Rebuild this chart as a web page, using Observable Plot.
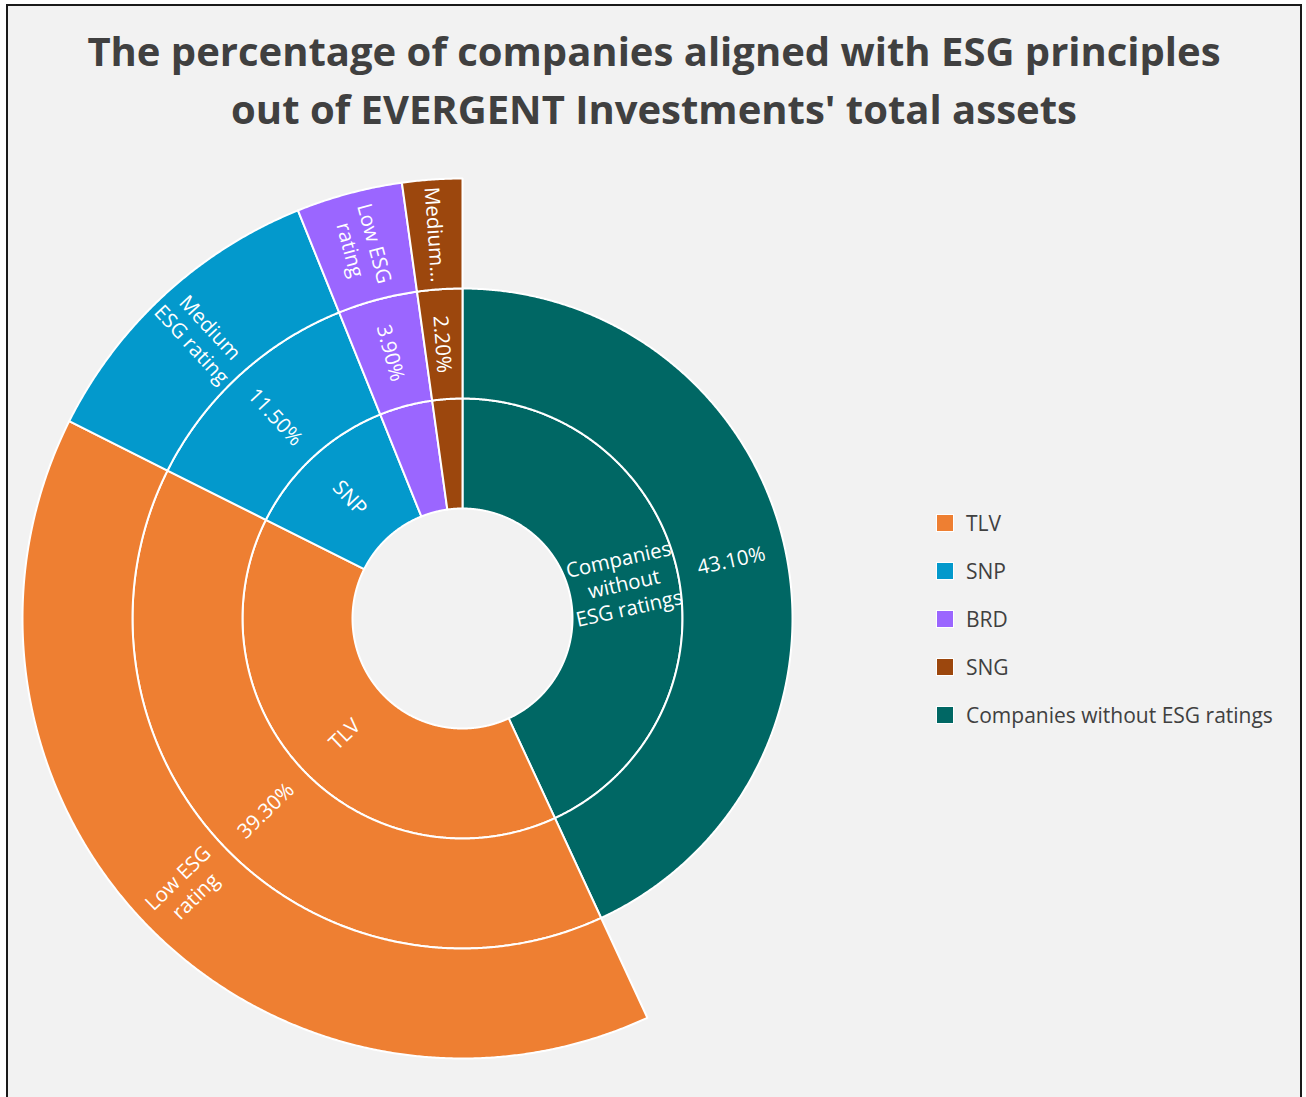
<!DOCTYPE html>
<html><head><meta charset="utf-8">
<script src="https://cdn.jsdelivr.net/npm/d3@7"></script>
<script src="https://cdn.jsdelivr.net/npm/@observablehq/plot@0.6"></script>
<style>
html,body{margin:0;padding:0;background:#ffffff;width:1306px;height:1097px;overflow:hidden;font-family:"Open Sans",sans-serif;}
#frame{position:absolute;left:6px;top:4px;width:1296px;height:1200px;border:2px solid #1a1a1a;background:#f2f2f2;box-sizing:border-box;}
#title{position:absolute;left:0;top:22px;width:1308px;text-align:center;font-weight:700;font-size:40px;line-height:58px;color:#404040;}
#chart{position:absolute;left:12px;top:168px;}
#legend{position:absolute;left:936px;top:0;}
.item{position:absolute;left:0;white-space:nowrap;display:flex;align-items:center;height:30px;}
.sw{width:18px;height:18px;box-sizing:border-box;border:1px solid #ffffff;margin-right:12px;flex:none;}
.lab{font-size:21px;color:#404040;}
</style>
</head><body>
<div id="frame"></div>
<div id="title">The percentage of companies aligned with ESG principles<br>out of EVERGENT Investments' total assets</div>
<div id="chart"></div>
<div id="legend"></div>
<script>
// ---- data ----
const companies = ["TLV", "SNP", "BRD", "SNG", "Companies without ESG ratings"];
const shares = [39.3, 11.5, 3.9, 2.2, 43.1];
const esgRatings = ["Low ESG rating", "Medium ESG rating", "Low ESG rating", "Medium ESG rating", null];
const companyLabels = ["TLV", "SNP", "", "", "Companies\nwithout\nESG ratings"];
const ratingLabels = ["Low ESG\nrating", "Medium\nESG rating", "Low ESG\nrating", "Medium...", ""];
const colors = ["#ee7f32", "#0399cc", "#9b66ff", "#9c470d", "#006764"];
const clockwiseOrder = [4, 0, 1, 2, 3];

// ---- layout ----
const R = [110, 220, 330, 440];
const total = d3.sum(shares);
const fmt = v => d3.format(".2f")(v) + "%";

const polys = [];
const labels = [];
let start = 0;
for (const i of clockwiseOrder) {
  const a0 = start, a1 = start + shares[i] / total * 360;
  start = a1;
  const mid = (a0 + a1) / 2;
  const rings = [{k: 0, text: companyLabels[i]}, {k: 1, text: fmt(shares[i])}];
  if (esgRatings[i]) rings.push({k: 2, text: ratingLabels[i]});
  for (const ring of rings) {
    const r0 = R[ring.k], r1 = R[ring.k + 1];
    const id = companies[i] + "-" + ring.k;
    const n = Math.max(2, Math.ceil((a1 - a0) / 0.25));
    for (let j = 0; j <= n; j++) {
      const a = (a0 + (a1 - a0) * j / n) * Math.PI / 180;
      polys.push({id, company: companies[i], x: r1 * Math.sin(a), y: r1 * Math.cos(a)});
    }
    for (let j = n; j >= 0; j--) {
      const a = (a0 + (a1 - a0) * j / n) * Math.PI / 180;
      polys.push({id, company: companies[i], x: r0 * Math.sin(a), y: r0 * Math.cos(a)});
    }
    if (ring.text) {
      const rm = (r0 + r1) / 2, am = mid * Math.PI / 180;
      labels.push({x: rm * Math.sin(am), y: rm * Math.cos(am), text: ring.text,
        rotate: mid > 180 ? mid - 270 : mid - 90});
    }
  }
}

const plot = Plot.plot({
  width: 900, height: 900, margin: 0,
  x: {domain: [-450, 450], axis: null},
  y: {domain: [-450, 450], axis: null},
  color: {domain: companies, range: colors},
  style: {background: "transparent", overflow: "visible"},
  marks: [
    Plot.line(polys, {x: "x", y: "y", z: "id", fill: "company", stroke: "#ffffff", strokeWidth: 2, curve: "linear-closed"}),
    Plot.text(labels, {x: "x", y: "y", text: "text", rotate: "rotate", fill: "#ffffff", fontSize: 20.5, lineHeight: 1.22, fontFamily: "Open Sans"})
  ]
});
document.getElementById("chart").appendChild(plot);

const colorScale = plot.scale("color");
const legend = document.getElementById("legend");
companies.forEach((c, i) => {
  const it = document.createElement("div");
  it.className = "item";
  it.style.top = (523 + i * 48 - 15) + "px";
  const sw = document.createElement("div");
  sw.className = "sw";
  sw.style.background = colorScale.apply(c);
  const lb = document.createElement("span");
  lb.className = "lab";
  lb.textContent = c;
  it.appendChild(sw); it.appendChild(lb);
  legend.appendChild(it);
});
</script>
</body></html>
